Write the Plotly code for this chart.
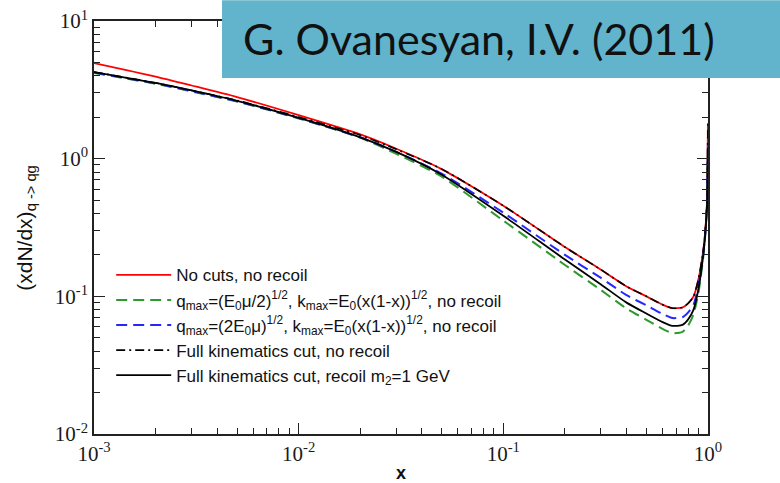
import plotly.graph_objects as go

# x grid
x = [0.001, 0.002, 0.003, 0.005, 0.01, 0.02, 0.03, 0.05, 0.1, 0.2, 0.3, 0.4,
     0.5, 0.6, 0.67, 0.75, 0.8, 0.85, 0.9, 0.95, 0.97, 0.99, 0.995, 0.999]

no_cuts = [4.95, 3.95, 3.40, 2.80, 2.07, 1.50, 1.18, 0.84, 0.455, 0.228, 0.156, 0.118,
           0.100, 0.087, 0.082, 0.083, 0.089, 0.100, 0.135, 0.22, 0.30, 0.50, 0.90, 1.80]
qmax_half = [4.20, 3.50, 3.08, 2.60, 1.96, 1.42, 1.085, 0.74, 0.355, 0.169, 0.111, 0.0815,
             0.0675, 0.058, 0.054, 0.0552, 0.0614, 0.074, 0.108, 0.198, 0.28, 0.47, 0.78, 1.15]
qmax_two = [4.22, 3.52, 3.10, 2.61, 1.97, 1.43, 1.12, 0.78, 0.405, 0.200, 0.136, 0.102,
            0.086, 0.0745, 0.0695, 0.0705, 0.0765, 0.087, 0.122, 0.21, 0.29, 0.48, 0.82, 1.30]
full_norecoil = [4.26, 3.55, 3.13, 2.65, 2.01, 1.48, 1.17, 0.84, 0.455, 0.228, 0.156, 0.118,
                 0.100, 0.087, 0.082, 0.083, 0.089, 0.100, 0.135, 0.22, 0.30, 0.50, 0.90, 1.80]
full_recoil = [4.26, 3.55, 3.13, 2.63, 1.98, 1.43, 1.12, 0.765, 0.385, 0.185, 0.122, 0.090,
               0.075, 0.065, 0.061, 0.062, 0.068, 0.080, 0.115, 0.205, 0.285, 0.475, 0.80, 1.20]

names = [
    "No cuts, no recoil",
    "q<sub>max</sub>=(E<sub>0</sub>\u03bc/2)<sup>1/2</sup>, k<sub>max</sub>=E<sub>0</sub>(x(1-x))<sup>1/2</sup>, no recoil",
    "q<sub>max</sub>=(2E<sub>0</sub>\u03bc)<sup>1/2</sup>, k<sub>max</sub>=E<sub>0</sub>(x(1-x))<sup>1/2</sup>, no recoil",
    "Full kinematics cut, no recoil",
    "Full kinematics cut, recoil m<sub>2</sub>=1 GeV",
]
series = [no_cuts, qmax_half, qmax_two, full_norecoil, full_recoil]
colors = ["#ff0000", "#2e9a2e", "#2626ff", "#000000", "#000000"]
dashes = ["solid", "11px,6px", "11px,6px", "9px,4px,2px,4px", "solid"]
widths = [1.8, 2.0, 2.0, 1.6, 1.8]

xtick_vals = [1e-3, 1e-2, 1e-1, 1]
xtick_text = ["10<sup>-3</sup>", "10<sup>-2</sup>", "10<sup>-1</sup>", "10<sup>0</sup>"]
ytick_vals = [1e-2, 1e-1, 1, 10]
ytick_text = ["10<sup>-2</sup>", "10<sup>-1</sup>", "10<sup>0</sup>", "10<sup>1</sup>"]

x_title = "<b>x</b>"
y_title = "(xdN/dx)<sub>q -> qg</sub>"
label_text = "G. Ovanesyan, I.V. (2011)"

fig = go.Figure()
for nm, ys, c, d, w in zip(names, series, colors, dashes, widths):
    fig.add_trace(go.Scatter(x=x, y=ys, mode="lines", name=nm,
                             line=dict(color=c, dash=d, width=w, shape="spline", smoothing=0.6)))

minor_x = [m * 10 ** e for e in (-3, -2, -1) for m in range(2, 10)]
minor_y = [m * 10 ** e for e in (-2, -1, 0) for m in range(2, 10)]

axis_common = dict(
    type="log", showgrid=False, zeroline=False, showline=True, linecolor="#222",
    linewidth=1.5, mirror="ticks", ticks="inside", ticklen=11, tickwidth=1.3,
    tickcolor="#222", tickmode="array", automargin=False,
    tickfont=dict(family="Liberation Serif", size=21, color="#1a1a1a"),
)

fig.update_xaxes(**axis_common, tickvals=xtick_vals, ticktext=xtick_text,
                 range=[-3, 0],
                 minor=dict(tickmode="array", tickvals=minor_x, ticks="inside", ticklen=6,
                            tickwidth=1.2, tickcolor="#222", showgrid=False))
fig.update_yaxes(**axis_common, tickvals=ytick_vals, ticktext=ytick_text,
                 range=[-2, 1],
                 minor=dict(tickmode="array", tickvals=minor_y, ticks="inside", ticklen=6,
                            tickwidth=1.2, tickcolor="#222", showgrid=False))

# axis titles
fig.add_annotation(xref="paper", yref="paper", x=0.5, y=-0.095, text=x_title, showarrow=False,
                   xanchor="center", yanchor="middle",
                   font=dict(family="Liberation Sans", size=18, color="#111"))
fig.add_annotation(xref="paper", yref="paper", x=-0.112, y=0.50, text=y_title, showarrow=False,
                   textangle=-90, xanchor="center", yanchor="middle",
                   font=dict(family="Liberation Sans", size=21, color="#111"))

fig.add_shape(type="rect", xref="paper", yref="paper", x0=0.2085, x1=1.13, y0=0.862, y1=1.05,
              fillcolor="#62b4cc", line=dict(width=0), layer="above")
fig.add_annotation(xref="paper", yref="paper", x=0.627, y=0.958, text=label_text,
                   showarrow=False, xanchor="center", yanchor="middle",
                   font=dict(family="Lato", size=43, color="#111"))

fig.update_layout(
    width=780, height=483,
    margin=dict(l=94, r=72, t=21, b=49),
    paper_bgcolor="white", plot_bgcolor="white",
    showlegend=True,
    legend=dict(x=0.028, y=0.428, xanchor="left", yanchor="top", bgcolor="rgba(0,0,0,0)",
                font=dict(family="Liberation Sans", size=17, color="#111"),
                tracegroupgap=0, itemwidth=55),
)

fig.write_html("out.html")
